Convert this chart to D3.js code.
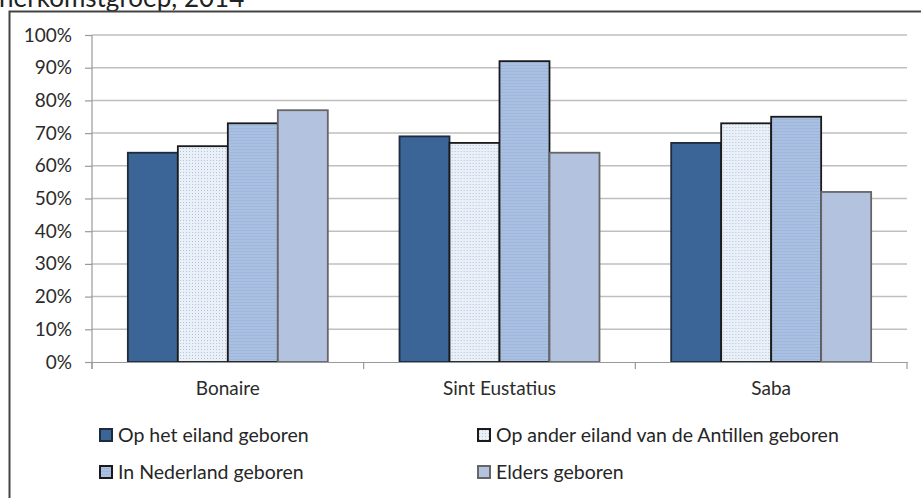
<!DOCTYPE html>
<html>
<head>
<meta charset="utf-8">
<script src="https://cdn.jsdelivr.net/npm/d3@7"></script>
<style>
  body { margin: 0; background: #fff; }
  svg { display: block; }
</style>
</head>
<body>
<div id="chart"></div>
<script>
const islands = ["Bonaire", "Sint Eustatius", "Saba"];
const seriesNames = ["Op het eiland geboren", "Op ander eiland van de Antillen geboren", "In Nederland geboren", "Elders geboren"];
const opEiland = [0.64, 0.69, 0.67];
const anderEiland = [0.66, 0.67, 0.73];
const nederland = [0.73, 0.92, 0.75];
const elders = [0.77, 0.64, 0.52];
const yTicks = [0, 0.1, 0.2, 0.3, 0.4, 0.5, 0.6, 0.7, 0.8, 0.9, 1.0];

const seriesValues = [opEiland, anderEiland, nederland, elders];
const data = islands.map((isl, i) => ({
  island: isl,
  vals: seriesNames.map((s, j) => ({ key: s, value: seriesValues[j][i] }))
}));

const W = 921, H = 498;
const plot = { left: 92, right: 907, top: 35, bottom: 362 };
const font = "Lato, 'Open Sans', sans-serif";

const svg = d3.select("#chart").append("svg")
  .attr("width", W).attr("height", H);

// patterns
const defs = svg.append("defs");
const dots = defs.append("pattern")
  .attr("id", "dots").attr("patternUnits", "userSpaceOnUse")
  .attr("width", 3).attr("height", 3);
dots.append("rect").attr("width", 3).attr("height", 3).attr("fill", "#eaf0f8");
dots.append("rect").attr("x", 1).attr("y", 1).attr("width", 1).attr("height", 1).attr("fill", "#b3c3db");

const stripes = defs.append("pattern")
  .attr("id", "stripes").attr("patternUnits", "userSpaceOnUse")
  .attr("width", 4).attr("height", 3);
stripes.append("rect").attr("width", 4).attr("height", 3).attr("fill", "#a9c0e2");
stripes.append("rect").attr("y", 2).attr("width", 4).attr("height", 1).attr("fill", "#9fb7db");

const fills = ["#3b6597", "url(#dots)", "url(#stripes)", "#b3c2de"];
const strokes = ["#1e2b3c", "#1a1a1a", "#1a1a1a", "#666"];

// title (cut off at top, as in the source)
svg.append("text")
  .attr("x", -1).attr("y", 7)
  .style("font", "26px " + font)
  .attr("fill", "#222")
  .text("herkomstgroep, 2014");

// frame
svg.append("path")
  .attr("d", `M9.5,${H} L9.5,11.5 L${W},11.5`)
  .attr("fill", "none").attr("stroke", "#444").attr("stroke-width", 2);

const x0 = d3.scaleBand().domain(islands).range([plot.left, plot.right]);
const x1 = d3.scaleBand().domain(seriesNames).range([0, x0.bandwidth()]).paddingOuter(0.717);
const y = d3.scaleLinear().domain([0, 1]).range([plot.bottom, plot.top]);

// gridlines
svg.append("g")
  .selectAll("line")
  .data(yTicks.filter(d => d > 0))
  .join("line")
  .attr("x1", plot.left).attr("x2", plot.right)
  .attr("y1", d => y(d)).attr("y2", d => y(d))
  .attr("stroke", "#bfbfbf").attr("stroke-width", 1.5);

// y axis
const yAxis = svg.append("g")
  .attr("transform", `translate(${plot.left},0)`)
  .call(d3.axisLeft(y).tickValues(yTicks).tickSize(7).tickPadding(13).tickFormat(d3.format(".0%")));
yAxis.select(".domain").remove();
yAxis.selectAll(".tick line").attr("stroke", "#999").attr("stroke-width", 1.2);
yAxis.selectAll("text").style("font", "19px " + font).attr("fill", "#2b2b2b");

svg.append("line")
  .attr("x1", plot.left).attr("x2", plot.left)
  .attr("y1", plot.top).attr("y2", plot.bottom + 7)
  .attr("stroke", "#999").attr("stroke-width", 1.2);

// bars
const groups = svg.append("g")
  .selectAll("g")
  .data(data)
  .join("g")
  .attr("transform", d => `translate(${x0(d.island)},0)`);

groups.selectAll("rect")
  .data(d => d.vals)
  .join("rect")
  .attr("x", d => x1(d.key))
  .attr("y", d => y(d.value))
  .attr("width", x1.bandwidth())
  .attr("height", d => y(0) - y(d.value))
  .attr("fill", (d, i) => fills[i])
  .attr("stroke", (d, i) => strokes[i])
  .attr("stroke-width", 1.8);

// x axis
const xAxis = svg.append("g")
  .attr("transform", `translate(0,${plot.bottom})`)
  .call(d3.axisBottom(x0).tickSize(0).tickPadding(20));
xAxis.select(".domain").attr("stroke", "#999").attr("stroke-width", 1.2);
xAxis.selectAll("text").style("font", "19px " + font).attr("fill", "#2b2b2b");

const bounds = islands.map(d => x0(d)).concat([plot.right]);
svg.append("g")
  .selectAll("line")
  .data(bounds)
  .join("line")
  .attr("x1", d => d).attr("x2", d => d)
  .attr("y1", plot.bottom).attr("y2", plot.bottom + 7)
  .attr("stroke", "#999").attr("stroke-width", 1.2);

// legend
const legendPos = [
  { x: 100, y: 435 }, { x: 478, y: 435 },
  { x: 100, y: 472 }, { x: 478, y: 472 }
];
const legend = svg.append("g")
  .selectAll("g")
  .data(seriesNames)
  .join("g")
  .attr("transform", (d, i) => `translate(${legendPos[i].x},${legendPos[i].y})`);

legend.append("rect")
  .attr("x", 0).attr("y", -6)
  .attr("width", 12).attr("height", 12)
  .attr("fill", (d, i) => fills[i])
  .attr("stroke", (d, i) => strokes[i])
  .attr("stroke-width", 2);

legend.append("text")
  .attr("x", 18).attr("y", 0)
  .attr("dy", "0.35em")
  .style("font", "19.5px " + font)
  .attr("fill", "#262626")
  .text(d => d);
</script>
</body>
</html>
